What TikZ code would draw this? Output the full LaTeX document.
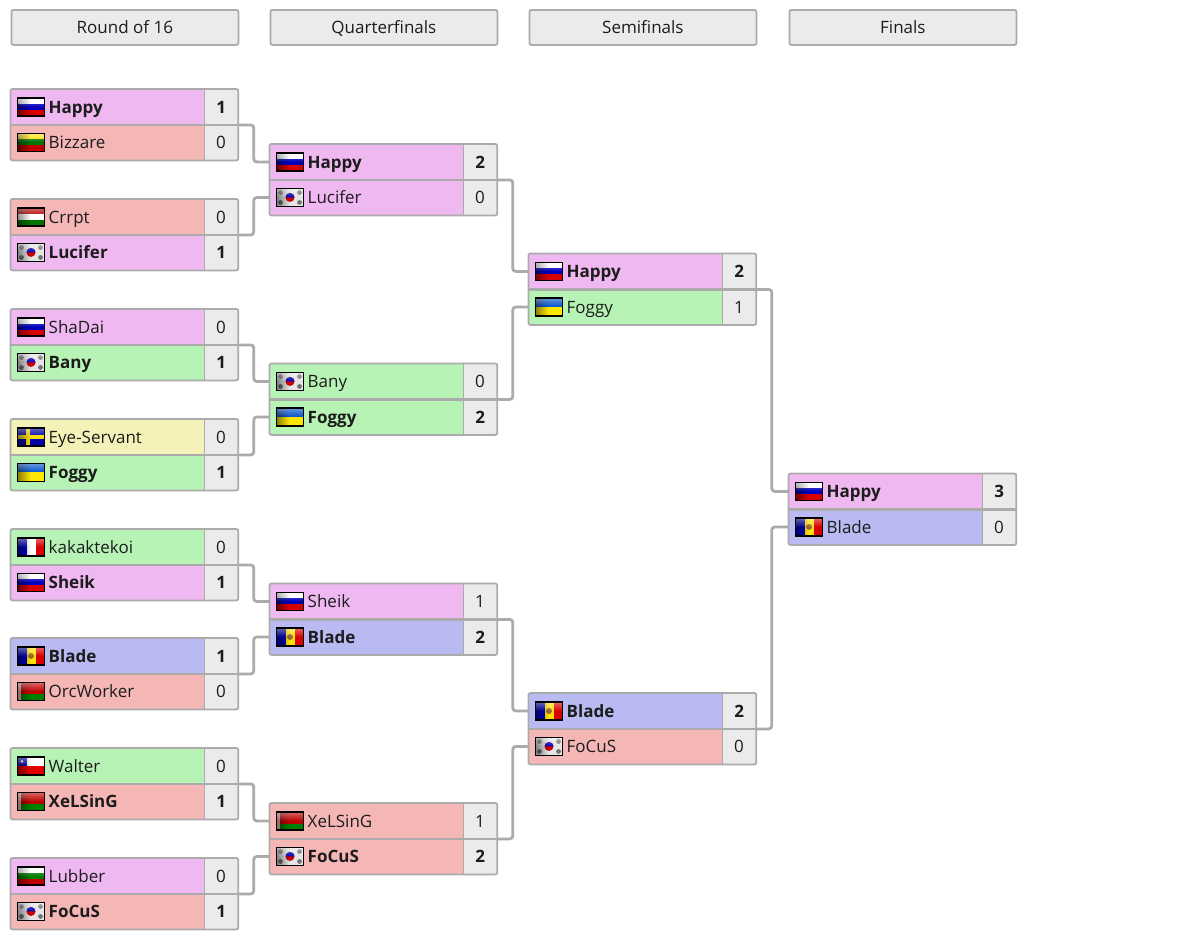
\documentclass[tikz,border=0pt]{standalone}
\usepackage{fontspec}
\setmainfont{Open Sans}
\usetikzlibrary{positioning,fadings}
\definecolor{rowpink}{HTML}{EFB8F1}
\definecolor{rowred}{HTML}{F4B7B6}
\definecolor{rowgreen}{HTML}{B8F3B6}
\definecolor{rowyellow}{HTML}{F5F2B9}
\definecolor{rowblue}{HTML}{B8BAF1}
\definecolor{boxgrey}{HTML}{EBEBEB}
\definecolor{linegrey}{HTML}{ABABAB}
\definecolor{inkdark}{HTML}{1C1C1C}
\tikzset{
  rowbox/.style={anchor=north west,minimum width=193pt,minimum height=35.5pt,inner sep=0pt},
  scorebox/.style={fill=boxgrey,minimum width=34pt,minimum height=35.5pt,inner sep=0pt,text height=12.5pt,text depth=0pt,text=inkdark,font=\fontsize{17}{20}\selectfont},
  nametext/.style={anchor=base west,inner sep=0pt,text=inkdark,font=\fontsize{17}{20}\selectfont},
  headbox/.style={anchor=north west,draw=linegrey,line width=1.8pt,rounded corners=2pt,fill=boxgrey,minimum width=227pt,minimum height=35pt,inner sep=0pt,text height=15pt,text depth=2pt,text=inkdark,font=\fontsize{17}{20}\selectfont},
  frameline/.style={draw=linegrey,line width=1.8pt,rounded corners=2pt},
  midline/.style={draw=linegrey,line width=2.8pt},
  scoreline/.style={draw=linegrey,line width=.8pt},
  link/.style={draw=linegrey,line width=2.8pt,rounded corners=3pt},
  % flags
  pics/flagru/.style={code={\fill[white] (0,0) rectangle (27,6);\fill[blue!75!black] (0,6) rectangle (27,12);\fill[red!85!black] (0,12) rectangle (27,18);}},
  pics/flaglt/.style={code={\fill[yellow!85!orange] (0,0) rectangle (27,6);\fill[green!45!black] (0,6) rectangle (27,12);\fill[red!75!black] (0,12) rectangle (27,18);}},
  pics/flaghu/.style={code={\fill[red!70!black] (0,0) rectangle (27,6);\fill[white] (0,6) rectangle (27,12);\fill[green!45!black] (0,12) rectangle (27,18);}},
  pics/flagbg/.style={code={\fill[white] (0,0) rectangle (27,6);\fill[green!50!black] (0,6) rectangle (27,12);\fill[red!75!black] (0,12) rectangle (27,18);}},
  pics/flagua/.style={code={\fill[blue!60!cyan!80!black] (0,0) rectangle (27,9);\fill[yellow!90!orange] (0,9) rectangle (27,18);}},
  pics/flagse/.style={code={\fill[blue!65!black] (0,0) rectangle (27,18);\fill[yellow!80!orange] (8,0) rectangle (12,18);\fill[yellow!80!orange] (0,7) rectangle (27,11);}},
  pics/flagfr/.style={code={\fill[blue!75!black] (0,0) rectangle (9,18);\fill[white] (9,0) rectangle (18,18);\fill[red!85!black] (18,0) rectangle (27,18);}},
  pics/flagmd/.style={code={\fill[blue!75!black] (0,0) rectangle (9,18);\fill[yellow!85!orange] (9,0) rectangle (18,18);\fill[red!85!black] (18,0) rectangle (27,18);\fill[brown!80!black] (13.5,9) circle (3);}},
  pics/flagby/.style={code={\fill[red!75!black] (0,0) rectangle (27,12);\fill[green!50!black] (0,12) rectangle (27,18);\fill[white!70!red] (0,0) rectangle (3,18);}},
  pics/flagcl/.style={code={\fill[white] (0,0) rectangle (27,9);\fill[red!90!black] (0,9) rectangle (27,18);\fill[blue!75!black] (0,0) rectangle (9,9);\fill[white] (4.5,4.5) circle (1.5);}},
  pics/flagkr/.style={code={\fill[white!90!black] (0,0) rectangle (27,18);
    \fill[red!80!black] (13.5,9) circle (4.5);\fill[blue!75!black] (9,9) arc (180:360:4.5) -- cycle;
    \foreach \cx/\cy in {4/4,23/4,4/14,23/14} \fill[black!55] (\cx,\cy) circle (2.4);}},
}
% one row of a match: name, x, y, colour, flag, text, score
\newcommand{\player}[7]{
  \node[rowbox,fill=#4] (#1) at (#2,#3) {};
  \node[scorebox,right=0pt of #1] (#1s) {#7};
  \pic[shift={(7,-9)}] at (#1.west) {#5};
  \fill[black,opacity=.45,path fading=east] ([shift={(7,-9)}]#1.west) rectangle ([shift={(20,9)}]#1.west);
  \fill[white,opacity=.4,path fading=south] ([shift={(7,-9)}]#1.west) rectangle ([shift={(34,0)}]#1.west);
  \draw[black,line width=1.2pt] ([shift={(7,-9)}]#1.west) rectangle ([shift={(34,9)}]#1.west);
  \node[nametext] (#1t) at ([shift={(38,6.1)}]#1.west) {#6};
}
\newcommand{\win}[1]{\textbf{#1}}
\begin{document}
\begin{tikzpicture}[x=1pt,y=-1pt]
\useasboundingbox (0.5,0) rectangle (1200.5,948);

\node[headbox] (head1) at (11,9) {Round of 16};
\node[headbox] (head2) at (270,9) {Quarterfinals};
\node[headbox] (head3) at (529,9) {Semifinals};
\node[headbox] (head4) at (789,9) {Finals};

% round of 16
\player{r1a}{11}{89}{rowpink}{flagru}{\win{Happy}}{\win{1}}
\player{r1b}{11}{124.5}{rowred}{flaglt}{Bizzare}{0}
\player{r2a}{11}{199}{rowred}{flaghu}{Crrpt}{0}
\player{r2b}{11}{234.5}{rowpink}{flagkr}{\win{Lucifer}}{\win{1}}
\player{r3a}{11}{309}{rowpink}{flagru}{ShaDai}{0}
\player{r3b}{11}{344.5}{rowgreen}{flagkr}{\win{Bany}}{\win{1}}
\player{r4a}{11}{419}{rowyellow}{flagse}{Eye-Servant}{0}
\player{r4b}{11}{454.5}{rowgreen}{flagua}{\win{Foggy}}{\win{1}}
\player{r5a}{11}{529}{rowgreen}{flagfr}{kakaktekoi}{0}
\player{r5b}{11}{564.5}{rowpink}{flagru}{\win{Sheik}}{\win{1}}
\player{r6a}{11}{638}{rowblue}{flagmd}{\win{Blade}}{\win{1}}
\player{r6b}{11}{673.5}{rowred}{flagby}{OrcWorker}{0}
\player{r7a}{11}{748}{rowgreen}{flagcl}{Walter}{0}
\player{r7b}{11}{783.5}{rowred}{flagby}{\win{XeLSinG}}{\win{1}}
\player{r8a}{11}{858}{rowpink}{flagbg}{Lubber}{0}
\player{r8b}{11}{893.5}{rowred}{flagkr}{\win{FoCuS}}{\win{1}}

% quarterfinals
\player{q1a}{270}{144}{rowpink}{flagru}{\win{Happy}}{\win{2}}
\player{q1b}{270}{179.5}{rowpink}{flagkr}{Lucifer}{0}
\player{q2a}{270}{363.5}{rowgreen}{flagkr}{Bany}{0}
\player{q2b}{270}{399}{rowgreen}{flagua}{\win{Foggy}}{\win{2}}
\player{q3a}{270}{583.5}{rowpink}{flagru}{Sheik}{1}
\player{q3b}{270}{619}{rowblue}{flagmd}{\win{Blade}}{\win{2}}
\player{q4a}{270}{803}{rowred}{flagby}{XeLSinG}{1}
\player{q4b}{270}{838.5}{rowred}{flagkr}{\win{FoCuS}}{\win{2}}

% semifinals
\player{s1a}{529}{253.5}{rowpink}{flagru}{\win{Happy}}{\win{2}}
\player{s1b}{529}{289}{rowgreen}{flagua}{Foggy}{1}
\player{s2a}{529}{693}{rowblue}{flagmd}{\win{Blade}}{\win{2}}
\player{s2b}{529}{728.5}{rowred}{flagkr}{FoCuS}{0}

% finals
\player{f1a}{789}{473.5}{rowpink}{flagru}{\win{Happy}}{\win{3}}
\player{f1b}{789}{509}{rowblue}{flagmd}{Blade}{0}

% connectors
\draw[link] (r1as.south east) -- ++(15.5,0) |- (q1a.west);
\draw[link] (r2as.south east) -- ++(15.5,0) |- (q1b.west);
\draw[link] (r3as.south east) -- ++(15.5,0) |- (q2a.west);
\draw[link] (r4as.south east) -- ++(15.5,0) |- (q2b.west);
\draw[link] (r5as.south east) -- ++(15.5,0) |- (q3a.west);
\draw[link] (r6as.south east) -- ++(15.5,0) |- (q3b.west);
\draw[link] (r7as.south east) -- ++(15.5,0) |- (q4a.west);
\draw[link] (r8as.south east) -- ++(15.5,0) |- (q4b.west);
\draw[link] (q1as.south east) -- ++(15.5,0) |- (s1a.west);
\draw[link] (q2as.south east) -- ++(15.5,0) |- (s1b.west);
\draw[link] (q3as.south east) -- ++(15.5,0) |- (s2a.west);
\draw[link] (q4as.south east) -- ++(15.5,0) |- (s2b.west);
\draw[link] (s1as.south east) -- ++(15.5,0) |- (f1a.west);
\draw[link] (s2as.south east) -- ++(15.5,0) |- (f1b.west);

% frames round each match
\foreach \m in {r1,r2,r3,r4,r5,r6,r7,r8,q1,q2,q3,q4,s1,s2,f1} {
  \draw[scoreline] (\m as.north west) -- (\m bs.south west);
  \draw[midline] (\m a.south west) -- (\m as.south east);
  \draw[frameline] (\m a.north west) rectangle (\m bs.south east);
}
\end{tikzpicture}
\end{document}
